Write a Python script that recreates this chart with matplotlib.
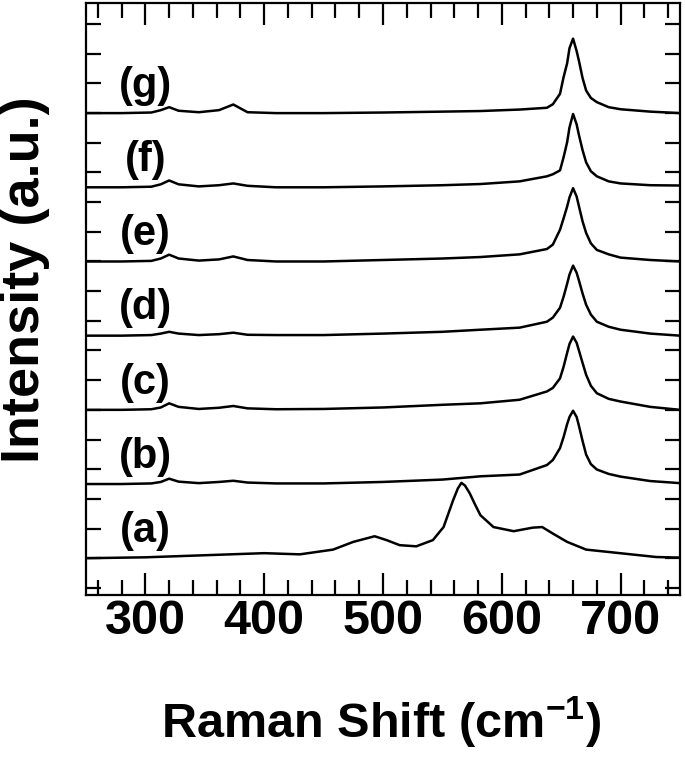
import matplotlib
matplotlib.use('Agg')
import matplotlib.pyplot as plt
from matplotlib.ticker import MultipleLocator, NullFormatter

plt.rcParams['font.family'] = ['Liberation Sans', 'DejaVu Sans']
plt.rcParams['font.weight'] = 'bold'
plt.rcParams['mathtext.fontset'] = 'custom'
plt.rcParams['mathtext.rm'] = 'Liberation Sans:bold'
plt.rcParams['mathtext.bf'] = 'Liberation Sans:bold'
plt.rcParams['mathtext.default'] = 'bf'

# stacking offsets of the spectra (a) .. (g)
labels = ['(a)', '(b)', '(c)', '(d)', '(e)', '(f)', '(g)']
offsets = [1.0, 3.5, 6.0, 8.5, 11.0, 13.5, 16.0]

# spectrum (a)
shift_a = [250, 300, 350, 400, 430, 458, 475, 493, 503, 514, 528, 542, 551, 559, 563,
           566, 569, 573, 577, 582, 593, 610, 626, 634, 643, 655, 671, 697, 730, 750]
int_a = [0.00, 0.03, 0.10, 0.17, 0.13, 0.29, 0.55, 0.74, 0.61, 0.44, 0.40, 0.61, 1.05, 1.95, 2.35,
         2.54, 2.45, 2.19, 1.85, 1.45, 1.05, 0.91, 1.03, 1.05, 0.83, 0.55, 0.29, 0.18, 0.04, 0.02]

# spectra (b) .. (g) share one shift grid
shift_bg = [250, 280, 305, 313, 320, 328, 345, 362, 374, 386, 410, 450, 500, 550, 582, 615,
            638, 643, 649, 652, 655, 657, 660, 663, 665, 668, 671, 675, 680, 690, 700, 725, 750]
int_b = [0, 0, 0.02, 0.07, 0.18, 0.08, 0.03, 0.07, 0.11, 0.05, 0.02, 0.02, 0.07, 0.15, 0.26, 0.32,
         0.64, 0.81, 1.21, 1.58, 2.02, 2.26, 2.47, 2.26, 1.95, 1.45, 0.99, 0.67, 0.49, 0.34, 0.25,
         0.10, 0.03]
int_c = [0, 0, 0.02, 0.08, 0.22, 0.10, 0.03, 0.07, 0.13, 0.05, 0.02, 0.03, 0.08, 0.17, 0.22, 0.34,
         0.62, 0.74, 1.06, 1.45, 1.92, 2.22, 2.47, 2.26, 1.99, 1.58, 1.18, 0.81, 0.56, 0.37, 0.28,
         0.10, 0]
int_d = [0, 0, 0.02, 0.07, 0.13, 0.07, 0.02, 0.05, 0.10, 0.03, 0.02, 0.02, 0.07, 0.13, 0.20, 0.27,
         0.47, 0.61, 0.94, 1.31, 1.75, 2.06, 2.36, 2.12, 1.85, 1.42, 1.04, 0.71, 0.47, 0.30, 0.20,
         0.07, 0]
int_e = [0, 0, 0.02, 0.10, 0.23, 0.10, 0.03, 0.07, 0.17, 0.05, 0, 0, 0.05, 0.10, 0.15, 0.24,
         0.42, 0.57, 1.07, 1.45, 1.85, 2.16, 2.47, 2.19, 1.85, 1.35, 0.96, 0.61, 0.39, 0.24, 0.13,
         0.05, 0]
int_f = [0, 0, 0.02, 0.10, 0.23, 0.10, 0.03, 0.07, 0.13, 0.05, 0, 0, 0.03, 0.07, 0.11, 0.20,
         0.37, 0.44, 0.57, 1.01, 1.52, 2.02, 2.47, 2.12, 1.75, 1.25, 0.84, 0.54, 0.37, 0.20, 0.13,
         0.07, 0.06]
int_g = [0, 0, 0.02, 0.10, 0.20, 0.08, 0.03, 0.10, 0.29, 0.03, 0, 0, 0.02, 0.05, 0.07, 0.12,
         0.18, 0.30, 0.65, 1.21, 1.68, 2.19, 2.51, 2.09, 1.75, 1.18, 0.76, 0.51, 0.37, 0.20, 0.13,
         0.05, 0]

fig = plt.figure(figsize=(6.85, 7.57), dpi=100)
ax = fig.add_axes([0.1255, 0.214, 0.8672, 0.782])

ax.plot(shift_a, [offsets[0] + v for v in int_a], color='black', lw=1.8)
for off, ys in zip(offsets[1:], [int_b, int_c, int_d, int_e, int_f, int_g]):
    ax.plot(shift_bg, [off + v for v in ys], color='black', lw=1.8)

for lab, off in zip(labels, offsets):
    ax.text(300, off + 0.92, lab, ha='center', va='center', fontsize=30, fontweight='bold')

ax.set_xlim(250, 750)
ax.set_ylim(-0.24, 19.71)
ax.xaxis.set_major_locator(MultipleLocator(100))
ax.xaxis.set_minor_locator(MultipleLocator(20))
ax.yaxis.set_major_locator(MultipleLocator(1))
ax.yaxis.set_major_formatter(NullFormatter())
ax.tick_params(axis='x', which='major', direction='in', length=16, width=1.6,
               top=True, labelsize=35, pad=3)
ax.tick_params(axis='x', which='minor', direction='in', length=11, width=1.6, top=True)
ax.tick_params(axis='y', which='major', direction='in', length=11, width=1.6, right=True)
for lbl in ax.get_xticklabels():
    lbl.set_fontweight('bold')
for sp in ax.spines.values():
    sp.set_linewidth(1.6)

fig.text(0.556, (757 - 738) / 757, 'Raman Shift (cm$^{-1}$)', ha='center', va='baseline',
         fontsize=35, fontweight='bold')
fig.text(25 / 685, 0.63, 'Intensity (a.u.)', rotation=90, ha='center', va='center',
         fontsize=39, fontweight='bold')

fig.savefig('out.png', dpi=100)
